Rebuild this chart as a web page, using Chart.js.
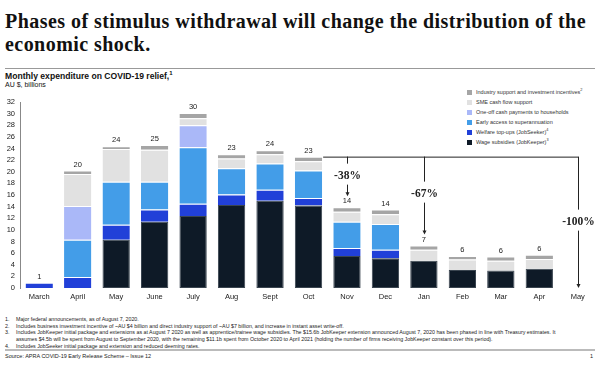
<!DOCTYPE html>
<html>
<head>
<meta charset="utf-8">
<script src="https://cdn.jsdelivr.net/npm/chart.js@4"></script>
<style>
  body { margin: 0; background: #fff; }
  #page { position: relative; width: 600px; height: 373px; overflow: hidden; font-family: "Liberation Sans", Arial, sans-serif; color: #111; }
  .abs { position: absolute; white-space: nowrap; }
  #title { left: 5px; top: 10px; font-family: "Liberation Serif", serif; font-weight: bold; font-size: 20px; letter-spacing: 0.45px; line-height: 22.5px; color: #111; }
  #rule1 { left: 5px; top: 68px; width: 590px; height: 1px; background: #999; }
  #sub1 { left: 5px; top: 71px; font-weight: bold; font-size: 8.6px; }
  #sub2 { left: 5px; top: 80.5px; font-size: 7px; }
  #legend { left: 467px; top: 88px; font-size: 5.5px; color: #333; }
  #legend div { height: 10px; line-height: 8px; }
  #legend span.box { display: inline-block; width: 5px; height: 5px; margin-right: 4px; vertical-align: -0.5px; }
  #chartBox { position: absolute; left: 0; top: 92px; width: 600px; height: 213px; }
  #notes { left: 5px; top: 316px; font-size: 5.3px; line-height: 6.7px; color: #222; }
  #notes .n { display: inline-block; width: 11px; }
  #rule2 { left: 5px; top: 349px; width: 590px; height: 2px; background: #bbb; }
  #source { left: 5px; top: 353px; font-size: 5.5px; color: #222; }
  #pageno { left: 590px; top: 353px; font-size: 5.5px; color: #222; }
  sup { font-size: 70%; line-height: 0; }
</style>
</head>
<body>
<div id="page">
  <div id="title" class="abs">Phases of stimulus withdrawal will change the distribution of the<br>economic shock.</div>
  <div id="rule1" class="abs"></div>
  <div id="sub1" class="abs">Monthly expenditure on COVID-19 relief,<sup>1</sup></div>
  <div id="sub2" class="abs">AU $, billions</div>
  <div id="legend" class="abs"></div>
  <div id="chartBox"><canvas id="myChart"></canvas></div>
  <div id="notes" class="abs">
    <div><span class="n">1.</span>Major federal announcements, as of August 7, 2020.</div>
    <div><span class="n">2.</span>Includes business investment incentive of ~AU $4 billion and direct industry support of ~AU $7 billion, and increase in instant asset write-off.</div>
    <div><span class="n">3.</span>Includes JobKeeper initial package and extensions as at August 7 2020 as well as apprentice/trainee wage subsidies. The $15.6b JobKeeper extension announced August 7, 2020 has been phased in line with Treasury estimates. It</div>
    <div><span class="n"></span>assumes $4.5b will be spent from August to September 2020, with the remaining $11.1b spent from October 2020 to April 2021 (holding the number of firms receiving JobKeeper constant over this period).</div>
    <div><span class="n">4.</span>Includes JobSeeker initial package and extension and reduced deeming rates.</div>
  </div>
  <div id="rule2" class="abs"></div>
  <div id="source" class="abs">Source: APRA COVID-19 Early Release Scheme – Issue 12</div>
  <div id="pageno" class="abs">1</div>
</div>
<script>
// months and values in AU $ billions
let months = ['March', 'April', 'May', 'June', 'July', 'Aug', 'Sept', 'Oct', 'Nov', 'Dec', 'Jan', 'Feb', 'Mar', 'Apr', 'May'];
let wageSubsidies = [0, 0, 8.3, 11.4, 12.4, 14.3, 15.0, 14.2, 5.5, 5.1, 4.7, 3.1, 3.0, 3.3, 0];
let welfareTopUps = [0.9, 1.9, 2.6, 2.1, 2.1, 1.8, 1.9, 1.3, 1.4, 1.5, 0, 0, 0, 0, 0];
let earlySuper = [0, 6.4, 7.4, 4.8, 9.7, 4.5, 4.5, 4.7, 4.5, 4.4, 0, 0, 0, 0, 0];
let oneOffPayments = [0, 5.8, 0, 0, 3.8, 0, 0, 0, 0, 0, 0, 0, 0, 0, 0];
let smeCashFlow = [0, 5.5, 5.6, 5.5, 1.2, 1.7, 1.6, 1.6, 1.7, 1.7, 1.9, 1.8, 1.7, 1.7, 0];
let industrySupport = [0, 0.6, 0.5, 0.8, 0.9, 0.7, 0.7, 0.8, 0.8, 0.8, 0.7, 0.6, 0.7, 0.7, 0];
let totalLabels = ['1', '20', '24', '25', '30', '23', '24', '23', '14', '14', '7', '6', '6', '6', ''];
let yTicks = [0, 2, 4, 6, 8, 10, 12, 14, 16, 18, 20, 22, 24, 26, 28, 30, 32];

// the drop brackets: from Oct to these months
let dropFrom = 7;
let drops = [{ to: 8, text: '-38%' }, { to: 10, text: '-67%' }, { to: 14, text: '-100%' }];

let series = [
  { label: 'Wage subsidies (JobKeeper)<sup>3</sup>', data: wageSubsidies, color: '#0e1a27' },
  { label: 'Welfare top-ups (JobSeeker)<sup>4</sup>', data: welfareTopUps, color: '#2140d8' },
  { label: 'Early access to superannuation', data: earlySuper, color: '#439de8' },
  { label: 'One-off cash payments to households', data: oneOffPayments, color: '#aab8f8' },
  { label: 'SME cash flow support', data: smeCashFlow, color: '#e1e1e1' },
  { label: 'Industry support and investment incentives<sup>2</sup>', data: industrySupport, color: '#a5a5a5' }
];

// legend, top to bottom
document.getElementById('legend').innerHTML = series.slice().reverse()
  .map(s => `<div><span class="box" style="background:${s.color}"></span>${s.label}</div>`).join('');

function stackTop(i) {
  return series.reduce((sum, s) => sum + s.data[i], 0);
}

function arrow(c, x, y1, y2) {
  c.beginPath(); c.moveTo(x, y1); c.lineTo(x, y2 - 3); c.stroke();
  c.beginPath(); c.moveTo(x - 2, y2 - 4); c.lineTo(x + 2, y2 - 4); c.lineTo(x, y2); c.closePath(); c.fill();
}

const extras = {
  id: 'extras',
  afterDatasetsDraw(chart) {
    let c = chart.ctx, xs = chart.scales.x, ys = chart.scales.y;
    let half = (xs.getPixelForValue(1) - xs.getPixelForValue(0)) * 0.71 / 2;
    c.save();
    c.fillStyle = '#222';
    c.font = '7.5px "Liberation Sans", Arial, sans-serif';
    c.textAlign = 'center';
    c.textBaseline = 'middle';
    months.forEach((m, i) => {
      if (totalLabels[i]) c.fillText(totalLabels[i], xs.getPixelForValue(i), ys.getPixelForValue(stackTop(i)) - 6);
    });

    let y0 = ys.getPixelForValue(stackTop(dropFrom));
    let xEnd = xs.getPixelForValue(drops[drops.length - 1].to);
    c.strokeStyle = '#222';
    c.lineWidth = 1;
    c.beginPath();
    c.moveTo(xs.getPixelForValue(dropFrom) + half + 1, y0 + 0.5);
    c.lineTo(xEnd + 0.5, y0 + 0.5);
    c.stroke();
    let depth = [7, 25, 53];
    drops.forEach((d, k) => {
      let x = Math.round(xs.getPixelForValue(d.to)) + 0.5;
      let textY = y0 + depth[k] + 12;
      let target = d.to === 14 ? ys.getPixelForValue(0) : ys.getPixelForValue(stackTop(d.to)) - 11;
      c.beginPath(); c.moveTo(x, y0); c.lineTo(x, y0 + depth[k]); c.stroke();
      c.font = 'bold 11.5px "Liberation Serif", serif';
      c.fillText(d.text, x, textY);
      arrow(c, x, textY + 9, target);
    });
    c.restore();
  }
};

const ctx = document.getElementById('myChart').getContext('2d');
let myChart = new Chart(ctx, {
  type: 'bar',
  data: {
    labels: months,
    datasets: series.map((s, k) => ({
      label: s.label,
      data: s.data,
      backgroundColor: s.color,
      borderColor: k === 0 ? '#3a4550' : '#ffffff',
      borderWidth: k === 0 ? 1 : { top: 1 },
      borderSkipped: false,
      barPercentage: 0.71,
      categoryPercentage: 1
    }))
  },
  options: {
    responsive: true,
    maintainAspectRatio: false,
    animation: false,
    events: [],
    layout: { padding: { top: 10, bottom: 1, left: 0, right: 3 } },
    plugins: { legend: { display: false }, tooltip: { enabled: false } },
    scales: {
      x: {
        stacked: true,
        grid: { display: false, drawTicks: false },
        border: { display: false },
        ticks: { color: '#222', font: { size: 7.5, family: '"Liberation Sans", Arial, sans-serif' }, padding: 4, maxRotation: 0, autoSkip: false },
        afterFit: s => { s.height = 16; }
      },
      y: {
        stacked: true,
        min: 0,
        max: 32,
        grid: { display: false, drawTicks: false },
        border: { display: true, color: '#888', width: 1 },
        afterBuildTicks: s => { s.ticks = yTicks.map(v => ({ value: v })); },
        ticks: { color: '#222', font: { size: 7.5, family: '"Liberation Sans", Arial, sans-serif' }, padding: 5, autoSkip: false },
        afterFit: s => { s.width = 20; }
      }
    }
  },
  plugins: [extras]
});
</script>
</body>
</html>
